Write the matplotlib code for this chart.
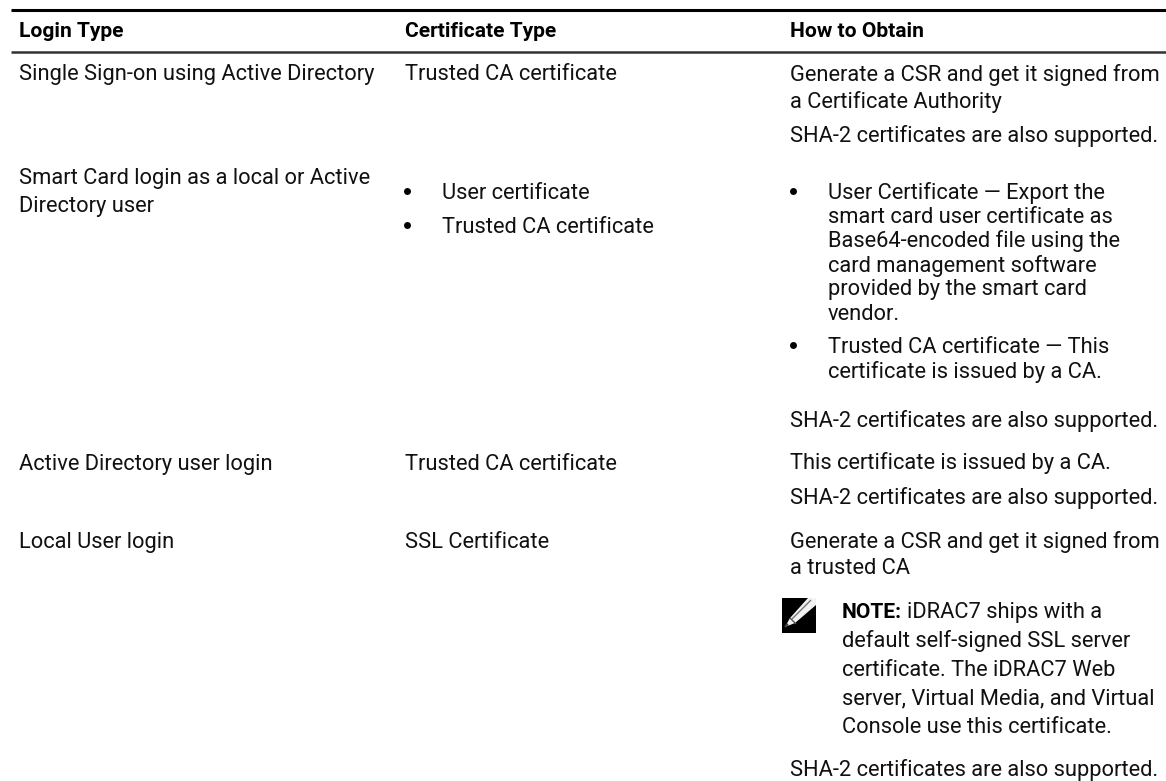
import matplotlib
matplotlib.use("Agg")
import matplotlib.pyplot as plt

W, H = 1166, 781

header = ["Login Type", "Certificate Type", "How to Obtain"]
col_x = [19, 405, 790]

# text, baseline y
login_col = [
    ("Single Sign-on using Active Directory", 80),
    ("Smart Card login as a local or Active", 184),
    ("Directory user", 212),
    ("Active Directory user login", 470),
    ("Local User login", 548),
]
cert_col = [
    ("Trusted CA certificate", 80),
    ("Trusted CA certificate", 470),
    ("SSL Certificate", 548),
]
cert_list = [
    ("User certificate", 199),
    ("Trusted CA certificate", 233),
]
obtain_col = [
    ("Generate a CSR and get it signed from", 81),
    ("a Certificate Authority", 108),
    ("SHA-2 certificates are also supported.", 142),
    ("SHA-2 certificates are also supported.", 427),
    ("This certificate is issued by a CA.", 469),
    ("SHA-2 certificates are also supported.", 504),
    ("Generate a CSR and get it signed from", 548),
    ("a trusted CA", 574),
    ("SHA-2 certificates are also supported.", 776),
]
obtain_list = [
    ("User Certificate — Export the", 199),
    ("smart card user certificate as", 223),
    ("Base64-encoded file using the", 247),
    ("card management software", 272),
    ("provided by the smart card", 295),
    ("vendor.", 320),
    ("Trusted CA certificate — This", 353),
    ("certificate is issued by a CA.", 378),
]
obtain_bullets = [199, 353]
note_lines = [
    ("iDRAC7 ships with a", 618),
    ("default self-signed SSL server", 647),
    ("certificate. The iDRAC7 Web", 676),
    ("server, Virtual Media, and Virtual", 704),
    ("Console use this certificate.", 733),
]

plt.rcParams["font.family"] = ["Roboto", "DejaVu Sans"]
FS = 15.75
FS_BOLD = 15.1
INK = "#111111"

fig = plt.figure(figsize=(W / 100, H / 100), dpi=100)
ax = fig.add_axes([0, 0, 1, 1])
ax.set_xlim(0, W)
ax.set_ylim(H, 0)
ax.axis("off")


def put(x, y, txt, **kw):
    return ax.text(x, y, txt, fontsize=kw.pop("fontsize", FS), va="baseline", color=kw.pop("color", INK), **kw)


def bullet(x, y):
    ax.plot([x], [y - 8], marker="o", ms=5, color="black", mew=0)


# rules of the table
ax.plot([11, W], [9.5, 9.5], color="black", lw=2.2, solid_capstyle="butt")
ax.plot([11, W], [51.5, 51.5], color="#333333", lw=1.8, solid_capstyle="butt")

for x, txt in zip(col_x, header):
    put(x, 37, txt, fontweight="bold", fontsize=FS_BOLD, color="black")

for txt, y in login_col:
    put(col_x[0], y, txt)
for txt, y in cert_col:
    put(col_x[1], y, txt)
for txt, y in cert_list:
    put(442, y, txt)
    bullet(407, y)
for txt, y in obtain_col:
    put(col_x[2], y, txt)
for txt, y in obtain_list:
    put(828, y, txt)
for y in obtain_bullets:
    bullet(793, y)

# note with pencil icon
ax.fill([782, 816, 816, 782], [598, 598, 633, 633], color="black", lw=0)
ax.fill([785, 790, 808, 816, 816, 795], [627, 618, 598, 598, 605, 623], color="#f2f2f2", lw=0)
ax.plot([792, 811], [619, 600], color="#777777", lw=1.0, solid_capstyle="butt")
ax.plot([790, 796], [618, 624], color="#555555", lw=1.0, solid_capstyle="butt")
ax.plot([785, 788], [627, 624], color="#444444", lw=1.5, solid_capstyle="butt")

note_x = 842
t = put(note_x, note_lines[0][1], "NOTE:", fontweight="bold", fontsize=FS_BOLD, color="black")
fig.canvas.draw()
bb = t.get_window_extent()
for i, (txt, y) in enumerate(note_lines):
    put(bb.x1 + 5 if i == 0 else note_x, y, txt)

fig.savefig("out.png", dpi=100)
